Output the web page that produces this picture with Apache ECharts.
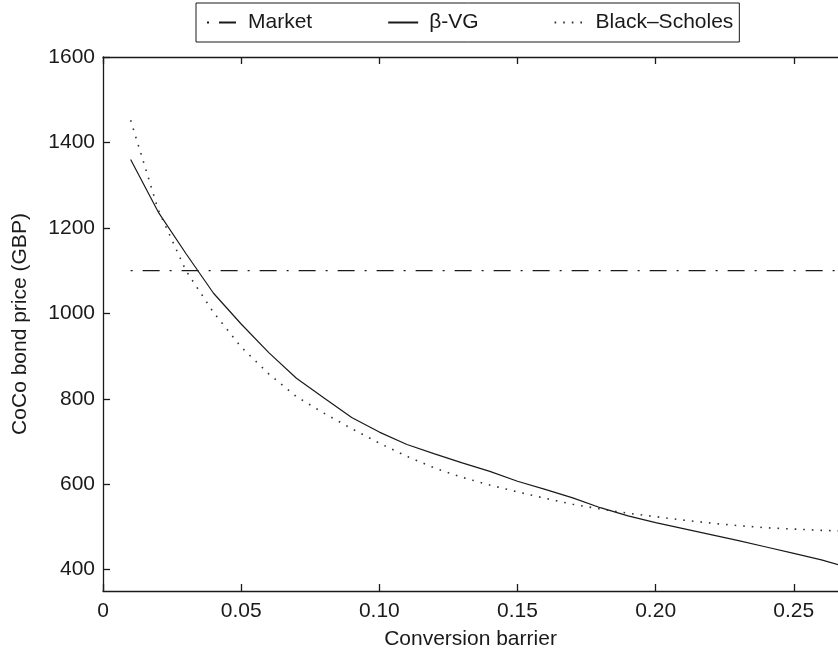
<!DOCTYPE html>
<html>
<head>
<meta charset="utf-8">
<script src="https://cdn.jsdelivr.net/npm/echarts@6/dist/echarts.min.js"></script>
<style>
html,body{margin:0;padding:0;background:#fff;}
#c{width:838px;height:658px;}
</style>
</head>
<body>
<div id="c"></div>
<script>
// Conversion barrier values
const barriers = [0.01,0.02,0.03,0.04,0.05,0.06,0.07,0.08,0.09,0.10,0.11,0.12,0.13,0.14,0.15,0.16,0.17,0.18,0.19,0.20,0.21,0.22,0.23,0.24,0.25,0.26,0.27];
// beta-VG model prices (GBP)
const betaVG = [1360,1237,1140,1047,975,908,848,802,756,722,693,671,650,630,607,588,568,545,526,510,496,482,468,453,438,423,404];
// Black-Scholes model prices (GBP)
const blackScholes = [1452,1242,1100,1002,921,858,805,766,730,696,665,638,616,598,582,567,553,542,532,524,516,509,503,498,495,492,490];
// Market price (GBP)
const marketBarriers = [0.01,0.27];
const marketPrice = [1100,1100];
// Tick values
const xTicks = [0,0.05,0.10,0.15,0.20,0.25];
const yTicks = [400,600,800,1000,1200,1400,1600];

const FONT = 'Liberation Sans';
const FS = 21;
const ink = '#1a1a1a';
const zip = (xs, ys) => xs.map((x,i)=>[x, ys[i]]);
const xFmt = v => (Math.abs(v) < 1e-9 ? '0' : v.toFixed(2));

const chart = echarts.init(document.getElementById('c'), null, {renderer:'canvas'});
chart.setOption({
  animation:false,
  backgroundColor:'#fff',
  textStyle:{fontFamily:FONT},
  grid:{left:103, top:57, right:0, bottom:67},
  legend:{
    left:196, top:3,
    padding:[9,6,9,10],
    itemWidth:30, itemHeight:14,
    itemGap:75,
    borderColor:ink, borderWidth:1,
    itemStyle:{opacity:0},
    formatter:name => '{t|' + name + '}',
    textStyle:{fontFamily:FONT, fontSize:FS, color:ink,
      rich:{t:{fontFamily:FONT, fontSize:FS, color:ink, padding:[0,0,0,6]}}},
    data:['Market','β-VG','Black–Scholes']
  },
  xAxis:[{
    type:'value', min:0, max:0.266,
    name:'Conversion barrier', nameLocation:'middle', nameGap:38,
    nameTextStyle:{fontFamily:FONT, fontSize:FS, color:ink},
    axisLine:{show:true, onZero:false, lineStyle:{color:ink, width:1.3}},
    axisTick:{show:true, inside:true, length:7, customValues:xTicks, lineStyle:{color:ink, width:1.3}},
    axisLabel:{fontFamily:FONT, fontSize:FS, color:ink, margin:10, customValues:xTicks, formatter:xFmt},
    splitLine:{show:false}
  },{
    type:'value', position:'top', min:0, max:0.266,
    axisLine:{show:true, onZero:false, lineStyle:{color:ink, width:1.3}},
    axisTick:{show:true, inside:true, length:7, customValues:xTicks, lineStyle:{color:ink, width:1.3}},
    axisLabel:{show:false}, splitLine:{show:false}
  }],
  yAxis:{
    type:'value', min:350, max:1600,
    name:'CoCo bond price (GBP)', nameLocation:'middle', nameGap:72,
    nameTextStyle:{fontFamily:FONT, fontSize:FS, color:ink},
    axisLine:{show:true, onZero:false, lineStyle:{color:ink, width:1.3}},
    axisTick:{show:true, inside:true, length:7, customValues:yTicks, lineStyle:{color:ink, width:1.3}},
    axisLabel:{fontFamily:FONT, fontSize:FS, color:ink, margin:8, customValues:yTicks,
      formatter:v => String(Math.round(v))},
    splitLine:{show:false}
  },
  series:[{
    name:'Market', type:'line', symbol:'none', color:ink,
    data:zip(marketBarriers, marketPrice),
    lineStyle:{color:ink, width:1.2, type:[2,10,17,10]}
  },{
    name:'β-VG', type:'line', symbol:'none', color:ink,
    data:zip(barriers, betaVG),
    lineStyle:{color:ink, width:1.2, type:'solid'}
  },{
    name:'Black–Scholes', type:'line', symbol:'none', color:ink,
    data:zip(barriers, blackScholes),
    lineStyle:{color:'#333', width:1.6, type:[1.6,7]}
  }]
});
</script>
</body>
</html>
